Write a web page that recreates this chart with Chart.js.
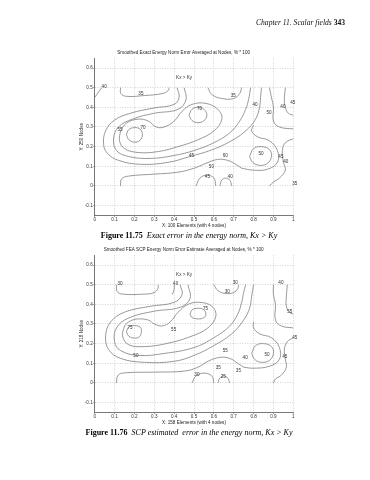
<!DOCTYPE html>
<html>
<head>
<meta charset="utf-8">
<script src="https://cdn.jsdelivr.net/npm/chart.js@4.4.1/dist/chart.umd.min.js"></script>
<style>
  body { margin: 0; width: 370px; height: 480px; background: #fff; position: relative; overflow: hidden; }
  .box { position: absolute; left: 74px; width: 226px; height: 185px; }
  #hdr { position: absolute; top: 18px; right: 25px; font: italic 7.6px "Liberation Serif", serif; color: #111; will-change: transform; }
  #hdr b { font-style: normal; }
  .cap { position: absolute; left: 4px; width: 370px; text-align: center; font: 8px "Liberation Serif", serif; color: #000; will-change: transform; }
  .cap i { margin-left: 4px; }
</style>
</head>
<body>
<div id="hdr">Chapter 11. Scalar fields <b>343</b></div>
<div class="box" style="top:44px"><canvas id="c1"></canvas></div>
<div class="cap" style="top:231px"><b>Figure 11.75</b><i>Exact error in the energy norm, Kx &gt; Ky</i></div>
<div class="box" style="top:241px"><canvas id="c2"></canvas></div>
<div class="cap" style="top:428px"><b>Figure 11.76</b><i>SCP estimated&nbsp; error in the energy norm, Kx &gt; Ky</i></div>
<script>
// axis ticks
const xTicks = [0, 0.1, 0.2, 0.3, 0.4, 0.5, 0.6, 0.7, 0.8, 0.9, 1];
const yTicks = [-0.1, 0, 0.1, 0.2, 0.3, 0.4, 0.5, 0.6];

// Figure 11.75 contour lines (x, y)
const exactLines = [
  [[0, 0.45], [0.035, 0.5]],
  [[0.13, 0.5], [0.132, 0.47], [0.16, 0.456], [0.25, 0.46], [0.34, 0.47], [0.37, 0.485], [0.375, 0.5]],
  [[0.415, 0.5], [0.425, 0.45], [0.4, 0.415], [0.3, 0.397], [0.18, 0.37], [0.1, 0.335], [0.055, 0.28], [0.045, 0.21], [0.065, 0.165], [0.12, 0.13], [0.23, 0.11], [0.37, 0.12], [0.48, 0.15], [0.58, 0.18], [0.68, 0.225], [0.76, 0.28], [0.81, 0.34], [0.83, 0.4], [0.835, 0.45], [0.84, 0.5]],
  [[0.45, 0.5], [0.46, 0.44], [0.42, 0.39], [0.3, 0.37], [0.19, 0.34], [0.12, 0.3], [0.095, 0.24], [0.11, 0.18], [0.17, 0.15], [0.28, 0.14], [0.4, 0.155], [0.5, 0.18], [0.6, 0.22], [0.68, 0.27], [0.73, 0.33], [0.76, 0.39], [0.775, 0.44], [0.785, 0.5]],
  [[0.57, 0.5], [0.59, 0.465], [0.64, 0.445], [0.7, 0.445], [0.73, 0.47], [0.74, 0.5]],
  [[0.13, 0.28], [0.125, 0.23], [0.15, 0.19], [0.22, 0.17], [0.32, 0.175], [0.42, 0.2], [0.52, 0.235], [0.6, 0.28], [0.64, 0.34], [0.62, 0.39], [0.56, 0.42], [0.49, 0.415], [0.44, 0.38], [0.4, 0.33], [0.35, 0.3], [0.31, 0.3], [0.27, 0.33], [0.22, 0.34], [0.16, 0.32], [0.13, 0.28]],
  [[0.16, 0.26], [0.17, 0.285], [0.2, 0.297], [0.23, 0.288], [0.24, 0.26], [0.228, 0.232], [0.2, 0.223], [0.172, 0.235], [0.16, 0.26]],
  [[0.475, 0.36], [0.49, 0.39], [0.52, 0.4], [0.55, 0.39], [0.565, 0.36], [0.55, 0.332], [0.52, 0.322], [0.49, 0.333], [0.475, 0.36]],
  [[0.13, 0], [0.135, 0.035], [0.17, 0.05], [0.3, 0.06], [0.42, 0.07], [0.5, 0.09], [0.56, 0.115], [0.62, 0.135], [0.67, 0.13], [0.71, 0.11], [0.74, 0.09]],
  [[0.78, 0.15], [0.8, 0.19], [0.84, 0.2], [0.88, 0.185], [0.89, 0.15], [0.87, 0.115], [0.83, 0.105], [0.795, 0.12], [0.78, 0.15]],
  [[0.74, 0.09], [0.8, 0.08], [0.87, 0.085], [0.92, 0.12], [0.92, 0.18], [0.88, 0.23], [0.82, 0.25], [0.79, 0.28], [0.8, 0.31]],
  [[0.88, 0.5], [0.89, 0.45], [0.9, 0.4], [0.9, 0.33], [0.93, 0.3], [1, 0.29]],
  [[0.96, 0.5], [0.955, 0.44], [0.96, 0.4], [0.975, 0.37], [1, 0.36]],
  [[1, 0.24], [0.96, 0.22], [0.945, 0.18], [0.95, 0.12], [0.96, 0.08], [0.93, 0.04], [0.9, 0.02], [0.88, 0]],
  [[0.51, 0], [0.53, 0.04], [0.565, 0.055], [0.6, 0.04], [0.61, 0]],
  [[0.63, 0], [0.64, 0.03], [0.66, 0.04], [0.68, 0.03], [0.69, 0]]
];
const exactLabels = [
  [0.04, 0.5, "40"], [0.225, 0.465, "35"], [0.12, 0.285, "55"], [0.236, 0.295, "70"],
  [0.52, 0.39, "70"], [0.69, 0.455, "35"], [0.8, 0.41, "40"], [0.87, 0.37, "50"],
  [0.94, 0.4, "40"], [0.99, 0.42, "45"], [0.48, 0.15, "45"], [0.65, 0.15, "60"],
  [0.83, 0.16, "50"], [0.93, 0.145, "45"], [0.955, 0.12, "40"], [0.58, 0.095, "50"],
  [0.56, 0.044, "45"], [0.675, 0.044, "40"], [1.0, 0.01, "35"]
];

// Figure 11.76 contour lines (x, y)
const scpLines = [
  [[0.11, 0.5], [0.113, 0.465], [0.14, 0.452], [0.25, 0.452], [0.3, 0.46], [0.318, 0.48], [0.32, 0.5]],
  [[0.39, 0.45], [0.4, 0.475], [0.4, 0.5]],
  [[0.43, 0.5], [0.44, 0.45], [0.4, 0.41], [0.28, 0.39], [0.15, 0.36], [0.08, 0.31], [0.055, 0.24], [0.07, 0.17], [0.13, 0.125], [0.25, 0.105], [0.4, 0.11], [0.5, 0.14], [0.6, 0.19], [0.69, 0.25], [0.75, 0.32], [0.78, 0.38], [0.79, 0.44], [0.8, 0.5]],
  [[0.47, 0.5], [0.48, 0.43], [0.43, 0.385], [0.3, 0.365], [0.17, 0.33], [0.11, 0.28], [0.1, 0.21], [0.13, 0.165], [0.22, 0.14], [0.35, 0.15], [0.5, 0.18], [0.6, 0.23], [0.68, 0.29], [0.72, 0.35], [0.74, 0.41], [0.75, 0.46], [0.76, 0.5]],
  [[0.6, 0.5], [0.62, 0.47], [0.66, 0.455], [0.7, 0.46], [0.72, 0.48], [0.725, 0.5]],
  [[0.15, 0.29], [0.14, 0.24], [0.17, 0.195], [0.25, 0.185], [0.36, 0.2], [0.48, 0.235], [0.57, 0.28], [0.61, 0.34], [0.59, 0.39], [0.53, 0.41], [0.47, 0.4], [0.42, 0.36], [0.38, 0.31], [0.34, 0.29], [0.3, 0.3], [0.27, 0.32], [0.21, 0.325], [0.17, 0.31], [0.15, 0.29]],
  [[0.16, 0.26], [0.17, 0.283], [0.2, 0.292], [0.23, 0.283], [0.235, 0.26], [0.225, 0.235], [0.2, 0.228], [0.172, 0.238], [0.16, 0.26]],
  [[0.48, 0.35], [0.49, 0.372], [0.52, 0.38], [0.55, 0.372], [0.56, 0.35], [0.55, 0.332], [0.52, 0.326], [0.49, 0.333], [0.48, 0.35]],
  [[0.11, 0], [0.115, 0.035], [0.14, 0.05], [0.3, 0.055], [0.45, 0.06], [0.52, 0.08], [0.57, 0.11], [0.63, 0.13], [0.68, 0.125], [0.72, 0.1], [0.75, 0.08]],
  [[0.79, 0.15], [0.81, 0.19], [0.85, 0.2], [0.89, 0.185], [0.9, 0.15], [0.88, 0.115], [0.84, 0.105], [0.805, 0.12], [0.79, 0.15]],
  [[0.75, 0.08], [0.8, 0.075], [0.88, 0.085], [0.93, 0.12], [0.93, 0.18], [0.89, 0.23], [0.83, 0.25], [0.8, 0.28], [0.8, 0.31]],
  [[0.9, 0.5], [0.9, 0.45], [0.91, 0.4], [0.91, 0.32], [0.94, 0.29], [1, 0.28]],
  [[0.97, 0.5], [0.965, 0.44], [0.965, 0.39], [0.98, 0.36], [1, 0.35]],
  [[1, 0.23], [0.97, 0.21], [0.955, 0.17], [0.96, 0.12], [0.965, 0.08], [0.94, 0.04], [0.91, 0.02], [0.9, 0]],
  [[0.49, 0], [0.51, 0.035], [0.55, 0.05], [0.59, 0.035], [0.6, 0]],
  [[0.62, 0], [0.63, 0.025], [0.65, 0.035], [0.67, 0.025], [0.68, 0]]
];
const scpLabels = [
  [0.12, 0.5, "30"], [0.4, 0.5, "40"], [0.7, 0.505, "30"], [0.66, 0.46, "30"],
  [0.93, 0.505, "40"], [0.55, 0.375, "75"], [0.17, 0.28, "75"], [0.39, 0.27, "55"],
  [0.975, 0.36, "55"], [1.0, 0.23, "45"], [0.2, 0.134, "50"], [0.65, 0.16, "55"],
  [0.75, 0.124, "40"], [0.86, 0.14, "50"], [0.95, 0.13, "45"], [0.615, 0.074, "35"],
  [0.716, 0.057, "35"], [0.507, 0.04, "30"], [0.64, 0.028, "25"]
];

const lineColor = "#6e6e6e";
const textColor = "#333";
const tickFont = { family: "Liberation Sans", size: 4.6 };

// draws clabel texts and the "Kx > Ky" note in data coords
const labelPlugin = {
  id: "clabels",
  afterDatasetsDraw(chart, args, opts) {
    const { ctx, scales } = chart;
    ctx.save();
    ctx.fillStyle = textColor;
    ctx.font = "4.6px 'Liberation Sans'";
    ctx.textAlign = "center";
    ctx.textBaseline = "middle";
    opts.labels.forEach(([x, y, t]) => {
      const px = scales.x.getPixelForValue(x);
      const py = scales.y.getPixelForValue(y);
      ctx.fillText(t, px + 1.5, py - 0.5);
    });
    ctx.fillText("Kx > Ky", scales.x.getPixelForValue(0.45), scales.y.getPixelForValue(0.55));
    ctx.restore();
  }
};

function makeChart(id, title, xTitle, yTitle, lines, labels) {
  return new Chart(document.getElementById(id), {
    type: "line",
    data: {
      datasets: lines.map((pts) => ({
        data: pts.map(([x, y]) => ({ x, y })),
        borderColor: lineColor,
        borderWidth: 0.7,
        pointRadius: 0,
        tension: 0.4,
        fill: false
      }))
    },
    options: {
      responsive: true,
      maintainAspectRatio: false,
      animation: false,
      events: [],
      layout: { padding: { left: 0, right: 6.7, top: 0, bottom: 0 } },
      plugins: {
        legend: { display: false },
        tooltip: { enabled: false },
        title: {
          display: true,
          text: title,
          color: "#222",
          font: { family: "Liberation Sans", size: 4.6, weight: "normal" },
          padding: { top: 6.2, bottom: 2.5 }
        },
        clabels: { labels }
      },
      scales: {
        x: {
          type: "linear",
          min: 0,
          max: 1,
          afterBuildTicks: (s) => { s.ticks = xTicks.map((v) => ({ value: v })); },
          afterFit: (s) => { s.height = 13.6; },
          ticks: {
            font: tickFont,
            color: textColor,
            padding: 0.3,
            maxRotation: 0,
            callback: (v) => String(v)
          },
          grid: { color: "#b5b5b5", lineWidth: 0.6, tickLength: 1.5, tickColor: "#555", tickBorderDash: [] },
          border: { display: true, color: "#555", width: 0.8, dash: [1, 1.5] },
          title: {
            display: true,
            text: xTitle,
            color: "#222",
            font: { family: "Liberation Sans", size: 4.6 },
            padding: { top: 0, bottom: 0.4 }
          }
        },
        y: {
          type: "linear",
          min: -0.15,
          max: 0.65,
          afterBuildTicks: (s) => { s.ticks = yTicks.map((v) => ({ value: v })); },
          afterFit: (s) => { s.width = 20.7; },
          ticks: {
            font: tickFont,
            color: textColor,
            padding: 0.5,
            callback: (v) => (v === 0 ? "0" : v.toFixed(1))
          },
          grid: { color: "#b5b5b5", lineWidth: 0.6, tickLength: 1.5, tickColor: "#555", tickBorderDash: [] },
          border: { display: true, color: "#555", width: 0.8, dash: [1, 1.5] },
          title: {
            display: true,
            text: yTitle,
            color: "#222",
            font: { family: "Liberation Sans", size: 4.6 },
            padding: { top: 4.9, bottom: 0 }
          }
        }
      }
    },
    plugins: [labelPlugin]
  });
}

makeChart("c1", "Smoothed Exact Energy Norm Error Averaged at Nodes, % * 100",
  "X: 100 Elements (with 4 nodes)", "Y: 250 Nodes", exactLines, exactLabels);
makeChart("c2", "Smoothed FEA SCP Energy Norm Error Estimate Averaged at Nodes, % * 100",
  "X: 158 Elements (with 4 nodes)", "Y: 218 Nodes", scpLines, scpLabels);
</script>
</body>
</html>
